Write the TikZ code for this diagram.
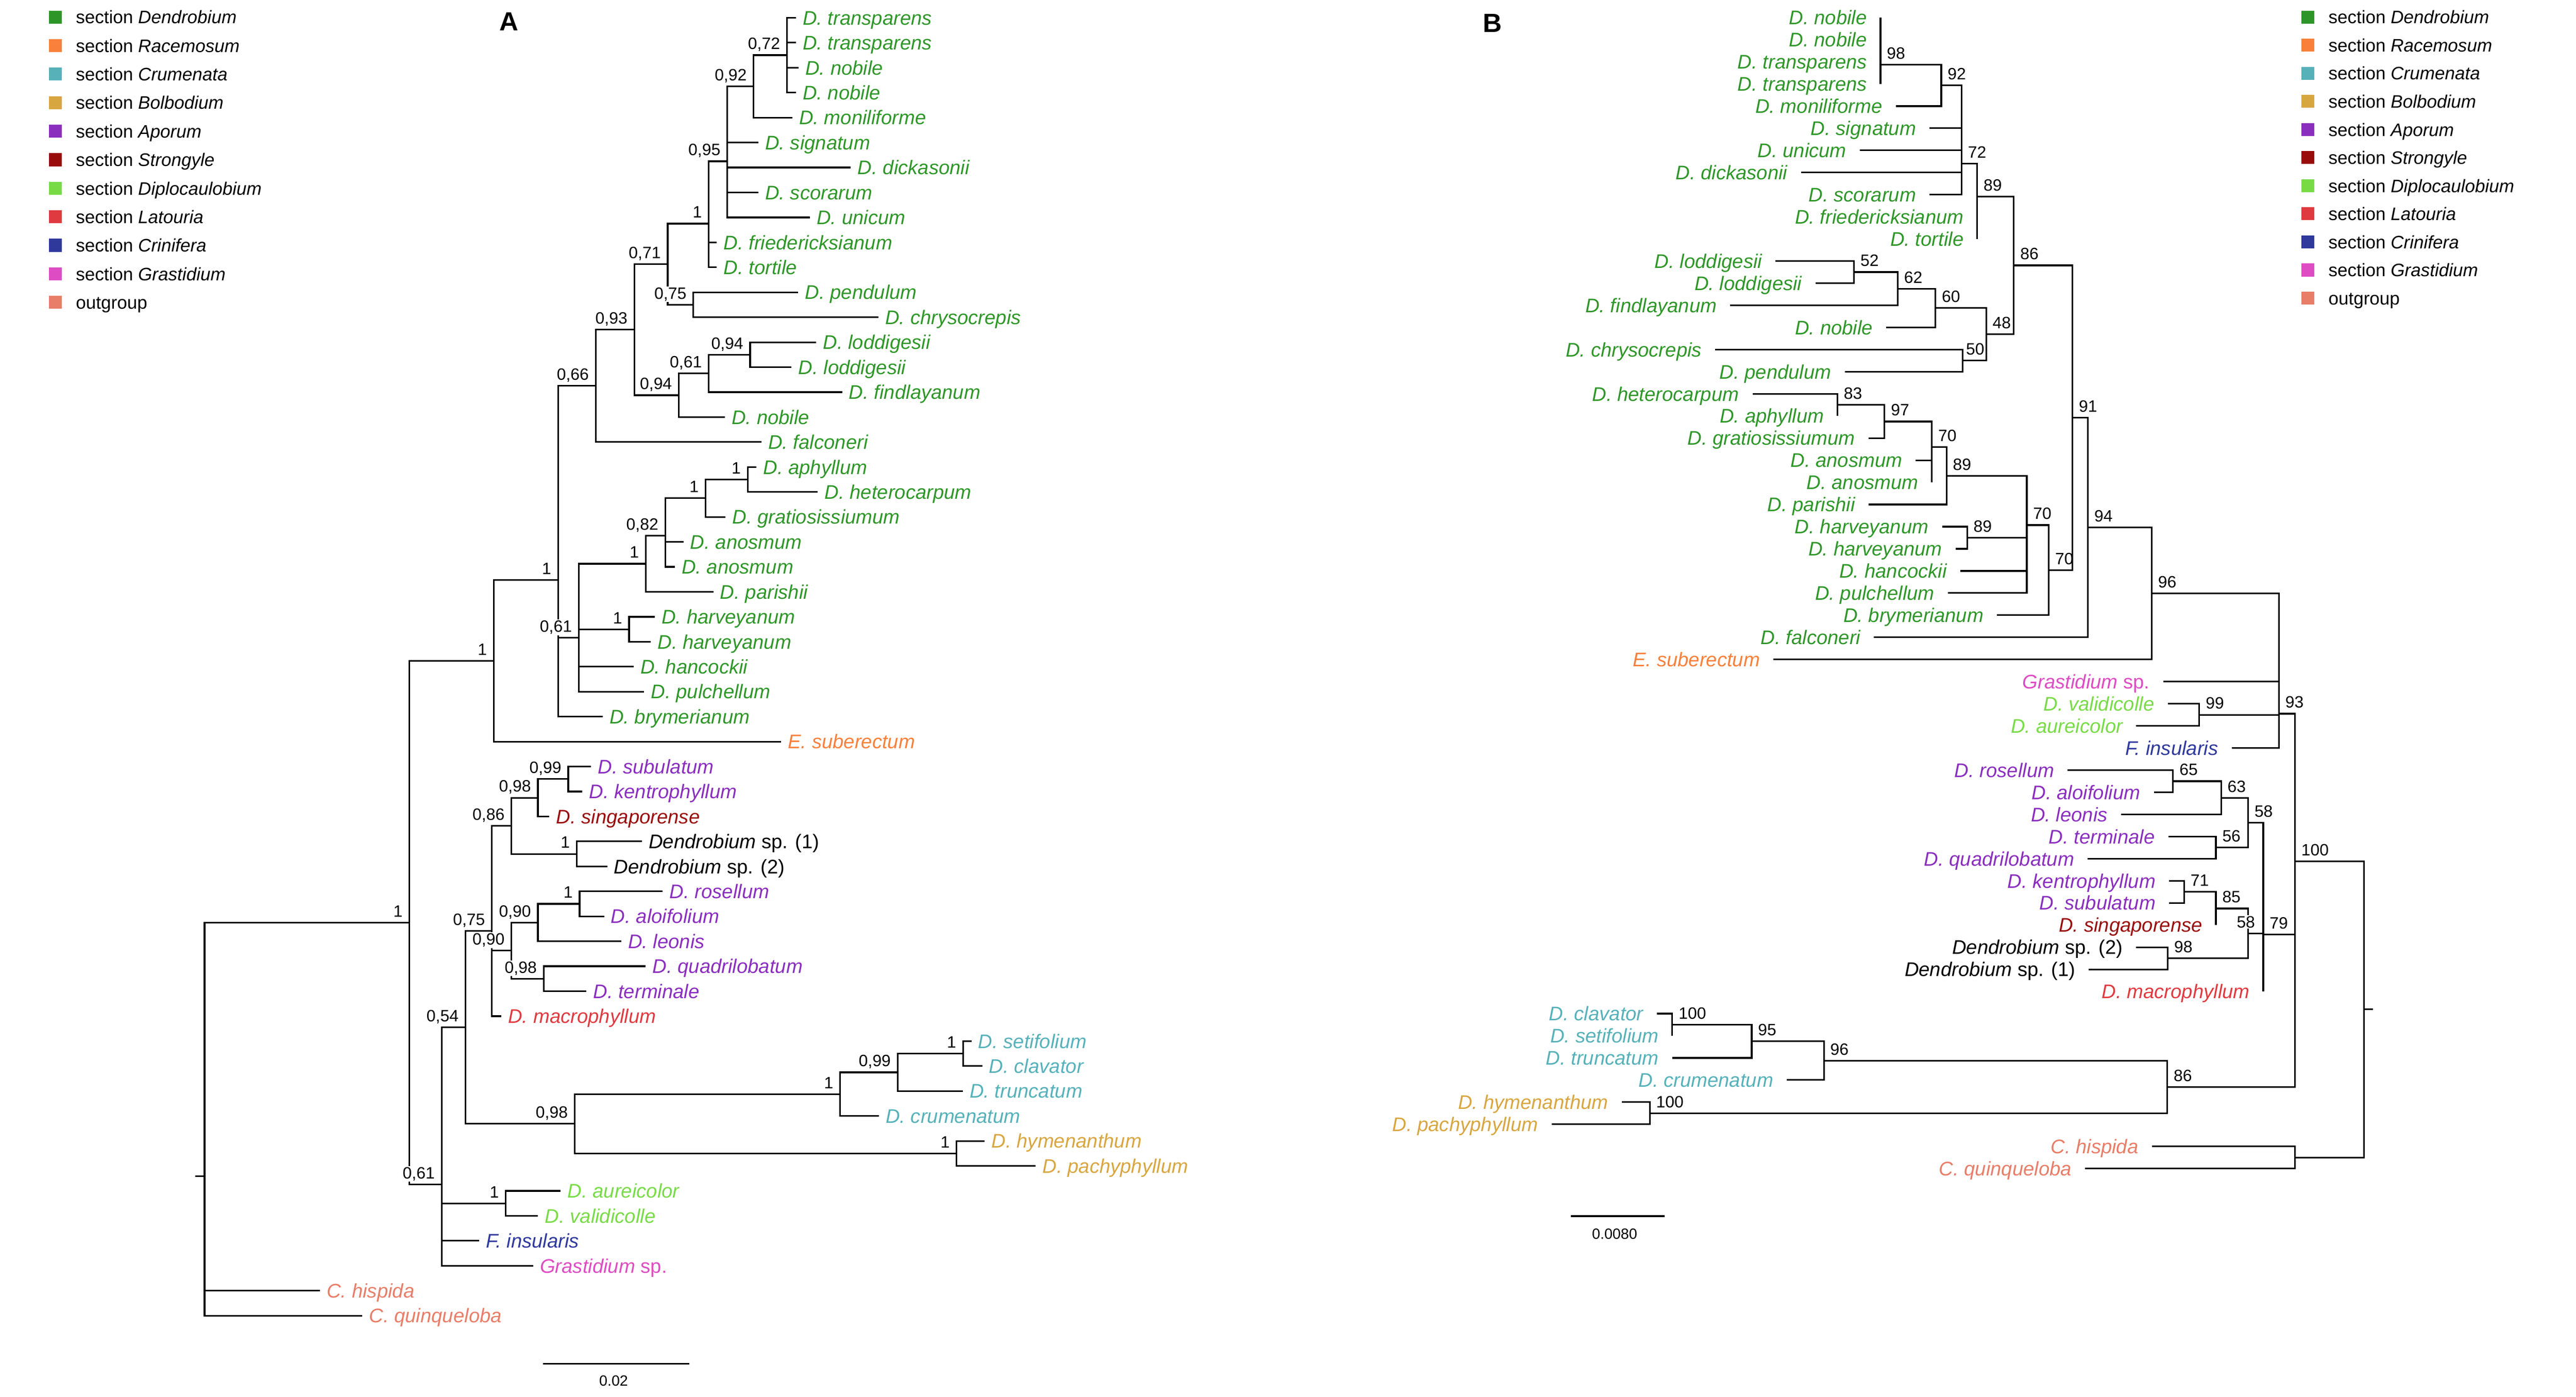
\documentclass[tikz,border=0pt]{standalone}
\usepackage{fontspec}
\setmainfont{Liberation Sans}
\usetikzlibrary{calc}

\definecolor{cDen}{HTML}{2E9628}
\definecolor{cRac}{HTML}{F8803A}
\definecolor{cCru}{HTML}{56B1B9}
\definecolor{cBol}{HTML}{D8A640}
\definecolor{cApo}{HTML}{8A2EBE}
\definecolor{cStr}{HTML}{990C0C}
\definecolor{cDip}{HTML}{78DB46}
\definecolor{cLat}{HTML}{DF3A40}
\definecolor{cCri}{HTML}{2F399C}
\definecolor{cGra}{HTML}{DD4CC2}
\definecolor{cOut}{HTML}{E87D68}

\tikzset{
  branch/.style={line width=1pt},
  tipa/.style={anchor=base west, inner sep=0pt, xshift=4pt, yshift=-4.3pt, font=\fontsize{12}{14}\selectfont\itshape},
  tipb/.style={anchor=base east, inner sep=0pt, xshift=-8pt, yshift=-4.3pt, font=\fontsize{12}{14}\selectfont\itshape},
  supa/.style={anchor=base east, inner sep=0.6pt, fill=white, font=\fontsize{10}{12}\selectfont},
  supb/.style={anchor=base west, inner sep=0.6pt, font=\fontsize{10}{12}\selectfont},
  legsq/.style={minimum size=7.9pt, inner sep=0pt},
  legtxt/.style={anchor=base west, inner sep=0pt, yshift=-4pt, font=\fontsize{11}{13}\selectfont},
  panel/.style={inner sep=0pt, font=\fontsize{16}{18}\selectfont\bfseries},
  sbtxt/.style={inner sep=0pt, font=\fontsize{9}{11}\selectfont}
}

% tip: name, x of branch end, row, colour, text
\newcommand{\tipA}[5]{\coordinate (#1) at (#2,#3); \node[tipa, text=#4] (#1l) at (#1) {#5};}
\newcommand{\tipB}[5]{\coordinate (#1) at (#2,#3); \node[tipb, text=#4] (#1l) at (#1) {#5};}
% support value next to a node
\newcommand{\supA}[2]{\node[supa] (#1s) at ([shift={(-3.4pt,3.5pt)}]#1) {#2};}
\newcommand{\supB}[2]{\node[supb] (#1s) at ([shift={(3.1pt,3.5pt)}]#1) {#2};}
% elbow branches from a node to its children
\newcommand{\clade}[2]{\foreach \kid in {#2} {\draw[branch] (#1) |- (\kid);}}

\begin{document}
\begin{tikzpicture}[x=1pt, y=-1pt]
\useasboundingbox (0,0) rectangle (1568,850);

% legends
\foreach \col/\sect [count=\k from 0] in {cDen/Dendrobium, cRac/Racemosum, cCru/Crumenata, cBol/Bolbodium, cApo/Aporum, cStr/Strongyle, cDip/Diplocaulobium, cLat/Latouria, cCri/Crinifera, cGra/Grastidium} {
  \node[legsq, fill=\col] (lgL\k) at (33.6,{10.4+17.36*\k}) {};
  \node[legtxt] (lgLt\k) at (46,{10.4+17.36*\k}) {section \textit{\sect}};
  \node[legsq, fill=\col] (lgR\k) at (1404.8,{10.4+17.1*\k}) {};
  \node[legtxt] (lgRt\k) at (1417.1,{10.4+17.1*\k}) {section \textit{\sect}};
}
\node[legsq, fill=cOut] (lgL10) at (33.6,184.0) {};
\node[legtxt] (lgLt10) at (46,184.0) {outgroup};
\node[legsq, fill=cOut] (lgR10) at (1404.8,181.4) {};
\node[legtxt] (lgRt10) at (1417.1,181.4) {outgroup};

\node[panel] (pA) at (309.7,13.1) {A};
\node[panel] (pB) at (908.5,14) {B};

% ---------------- tree A ----------------
\begin{scope}[yshift=-10.8pt, y=-15.19pt]
\tipA{a0}{484.4}{0}{cDen}{D. transparens}
\tipA{a1}{484.4}{1}{cDen}{D. transparens}
\tipA{a2}{486.0}{2}{cDen}{D. nobile}
\tipA{a3}{484.4}{3}{cDen}{D. nobile}
\tipA{a4}{482.2}{4}{cDen}{D. moniliforme}
\tipA{a5}{461.5}{5}{cDen}{D. signatum}
\tipA{a6}{517.9}{6}{cDen}{D. dickasonii}
\tipA{a7}{461.5}{7}{cDen}{D. scorarum}
\tipA{a8}{492.9}{8}{cDen}{D. unicum}
\tipA{a9}{436.3}{9}{cDen}{D. friedericksianum}
\tipA{a10}{436.3}{10}{cDen}{D. tortile}
\tipA{a11}{485.9}{11}{cDen}{D. pendulum}
\tipA{a12}{534.6}{12}{cDen}{D. chrysocrepis}
\tipA{a13}{496.8}{13}{cDen}{D. loddigesii}
\tipA{a14}{481.8}{14}{cDen}{D. loddigesii}
\tipA{a15}{512.6}{15}{cDen}{D. findlayanum}
\tipA{a16}{441.2}{16}{cDen}{D. nobile}
\tipA{a17}{463.4}{17}{cDen}{D. falconeri}
\tipA{a18}{460.4}{18}{cDen}{D. aphyllum}
\tipA{a19}{497.8}{19}{cDen}{D. heterocarpum}
\tipA{a20}{441.6}{20}{cDen}{D. gratiosissiumum}
\tipA{a21}{416.0}{21}{cDen}{D. anosmum}
\tipA{a22}{410.7}{22}{cDen}{D. anosmum}
\tipA{a23}{434.2}{23}{cDen}{D. parishii}
\tipA{a24}{398.5}{24}{cDen}{D. harveyanum}
\tipA{a25}{396.1}{25}{cDen}{D. harveyanum}
\tipA{a26}{385.6}{26}{cDen}{D. hancockii}
\tipA{a27}{392.1}{27}{cDen}{D. pulchellum}
\tipA{a28}{366.8}{28}{cDen}{D. brymerianum}
\tipA{a29}{475.4}{29}{cRac}{E. suberectum}
\tipA{a30}{359.7}{30}{cApo}{D. subulatum}
\tipA{a31}{354.4}{31}{cApo}{D. kentrophyllum}
\tipA{a32}{334.4}{32}{cStr}{D. singaporense}
\tipA{a33}{390.7}{33}{black}{Dendrobium \textup{sp. (1)}}
\tipA{a34}{369.6}{34}{black}{Dendrobium \textup{sp. (2)}}
\tipA{a35}{403.4}{35}{cApo}{D. rosellum}
\tipA{a36}{367.7}{36}{cApo}{D. aloifolium}
\tipA{a37}{378.1}{37}{cApo}{D. leonis}
\tipA{a38}{393.0}{38}{cApo}{D. quadrilobatum}
\tipA{a39}{356.9}{39}{cApo}{D. terminale}
\tipA{a40}{305.1}{40}{cLat}{D. macrophyllum}
\tipA{a41}{591.3}{41}{cCru}{D. setifolium}
\tipA{a42}{597.9}{42}{cCru}{D. clavator}
\tipA{a43}{586.0}{43}{cCru}{D. truncatum}
\tipA{a44}{534.9}{44}{cCru}{D. crumenatum}
\tipA{a45}{599.4}{45}{cBol}{D. hymenanthum}
\tipA{a46}{630.4}{46}{cBol}{D. pachyphyllum}
\tipA{a47}{341.3}{47}{cDip}{D. aureicolor}
\tipA{a48}{327.5}{48}{cDip}{D. validicolle}
\tipA{a49}{291.8}{49}{cCri}{F. insularis}
\tipA{a50}{324.5}{50}{cGra}{Grastidium \textup{sp.}}
\tipA{a51}{194.7}{51}{cOut}{C. hispida}
\tipA{a52}{220.5}{52}{cOut}{C. quinqueloba}

\coordinate (nA72) at (479.0,1.5);
\coordinate (nA92) at (458.7,2.75);
\coordinate (nA95) at (442.7,5.75);
\coordinate (nA1a) at (431.4,8.25);
\coordinate (nA75) at (422.0,11.5);
\coordinate (nA71) at (406.4,9.875);
\coordinate (nA94a) at (456.6,13.5);
\coordinate (nA61a) at (431.4,14.25);
\coordinate (nA94b) at (413.2,15.125);
\coordinate (nA93) at (386.1,12.5);
\coordinate (nA66) at (362.6,14.75);
\coordinate (nA1d) at (455.1,18.5);
\coordinate (nA1e) at (429.5,19.25);
\coordinate (nA82) at (404.9,20.75);
\coordinate (nA1f) at (393.1,21.875);
\coordinate (nA1g) at (382.9,24.5);
\coordinate (nA61b) at (352.3,24.84375);
\coordinate (nA1b) at (339.7,22.53125);
\coordinate (nA1c) at (300.6,25.765625);
\coordinate (nA99) at (345.9,30.5);
\coordinate (nA98a) at (327.4,31.25);
\coordinate (nA1h) at (351.1,33.5);
\coordinate (nA86) at (311.3,32.375);
\coordinate (nA1i) at (352.8,35.5);
\coordinate (nA90a) at (327.4,36.25);
\coordinate (nA98b) at (330.9,38.5);
\coordinate (nA90b) at (311.3,37.375);
\coordinate (nA75b) at (299.4,36.5833);
\coordinate (nA1j) at (586.2,41.5);
\coordinate (nA99b) at (546.4,42.25);
\coordinate (nA1k) at (511.4,43.125);
\coordinate (nA1l) at (582.3,45.5);
\coordinate (nA98c) at (349.8,44.3125);
\coordinate (nA54) at (283.3,40.4479);
\coordinate (nA1m) at (307.9,47.5);
\coordinate (nA61c) at (268.8,46.737);
\coordinate (nA1n) at (249.2,36.2513);
\coordinate (rootA) at (124.5,46.4171);
\coordinate (rootA0) at (118.7,46.4171);

\clade{nA72}{a0,a1,a2,a3}
\clade{nA92}{nA72,a4}
\clade{nA95}{nA92,a5,a6,a7,a8}
\clade{nA1a}{nA95,a9,a10}
\clade{nA75}{a11,a12}
\clade{nA71}{nA1a,nA75}
\clade{nA94a}{a13,a14}
\clade{nA61a}{nA94a,a15}
\clade{nA94b}{nA61a,a16}
\clade{nA93}{nA71,nA94b}
\clade{nA66}{nA93,a17}
\clade{nA1d}{a18,a19}
\clade{nA1e}{nA1d,a20}
\clade{nA82}{nA1e,a21,a22}
\clade{nA1f}{nA82,a23}
\clade{nA1g}{a24,a25}
\clade{nA61b}{nA1f,nA1g,a26,a27}
\clade{nA1b}{nA66,nA61b,a28}
\clade{nA1c}{nA1b,a29}
\clade{nA99}{a30,a31}
\clade{nA98a}{nA99,a32}
\clade{nA1h}{a33,a34}
\clade{nA86}{nA98a,nA1h}
\clade{nA1i}{a35,a36}
\clade{nA90a}{nA1i,a37}
\clade{nA98b}{a38,a39}
\clade{nA90b}{nA90a,nA98b}
\clade{nA75b}{nA86,nA90b,a40}
\clade{nA1j}{a41,a42}
\clade{nA99b}{nA1j,a43}
\clade{nA1k}{nA99b,a44}
\clade{nA1l}{a45,a46}
\clade{nA98c}{nA1k,nA1l}
\clade{nA54}{nA75b,nA98c}
\clade{nA1m}{a47,a48}
\clade{nA61c}{nA54,nA1m,a49,a50}
\clade{nA1n}{nA1c,nA61c}
\clade{rootA}{nA1n,a51,a52}
\draw[branch] (rootA0) -- (rootA);

\supA{nA72}{0,72}
\supA{nA92}{0,92}
\supA{nA95}{0,95}
\supA{nA1a}{1}
\supA{nA75}{0,75}
\supA{nA71}{0,71}
\supA{nA94a}{0,94}
\supA{nA61a}{0,61}
\supA{nA94b}{0,94}
\supA{nA93}{0,93}
\supA{nA66}{0,66}
\supA{nA1d}{1}
\supA{nA1e}{1}
\supA{nA82}{0,82}
\supA{nA1f}{1}
\supA{nA1g}{1}
\supA{nA61b}{0,61}
\supA{nA1b}{1}
\supA{nA1c}{1}
\supA{nA99}{0,99}
\supA{nA98a}{0,98}
\supA{nA1h}{1}
\supA{nA86}{0,86}
\supA{nA1i}{1}
\supA{nA90a}{0,90}
\supA{nA98b}{0,98}
\supA{nA90b}{0,90}
\supA{nA75b}{0,75}
\supA{nA1j}{1}
\supA{nA99b}{0,99}
\supA{nA1k}{1}
\supA{nA1l}{1}
\supA{nA98c}{0,98}
\supA{nA54}{0,54}
\supA{nA1m}{1}
\supA{nA61c}{0,61}
\supA{nA1n}{1}
\end{scope}

% scale bar A
\coordinate (sbA1) at (330.4,829.9);
\coordinate (sbA2) at (419.5,829.9);
\draw[branch] (sbA1) -- (sbA2);
\node[sbtxt] (sbAl) at (373.5,840.3) {0.02};

% ---------------- tree B ----------------
\begin{scope}[yshift=-10.7pt, y=-13.47pt]
\tipB{b0}{1144.6}{0}{cDen}{D. nobile}
\tipB{b1}{1144.6}{1}{cDen}{D. nobile}
\tipB{b2}{1144.6}{2}{cDen}{D. transparens}
\tipB{b3}{1144.6}{3}{cDen}{D. transparens}
\tipB{b4}{1154.0}{4}{cDen}{D. moniliforme}
\tipB{b5}{1174.5}{5}{cDen}{D. signatum}
\tipB{b6}{1132.1}{6}{cDen}{D. unicum}
\tipB{b7}{1096.2}{7}{cDen}{D. dickasonii}
\tipB{b8}{1174.5}{8}{cDen}{D. scorarum}
\tipB{b9}{1203.5}{9}{cDen}{D. friedericksianum}
\tipB{b10}{1203.5}{10}{cDen}{D. tortile}
\tipB{b11}{1080.8}{11}{cDen}{D. loddigesii}
\tipB{b12}{1105.0}{12}{cDen}{D. loddigesii}
\tipB{b13}{1053.2}{13}{cDen}{D. findlayanum}
\tipB{b14}{1148.2}{14}{cDen}{D. nobile}
\tipB{b15}{1044.0}{15}{cDen}{D. chrysocrepis}
\tipB{b16}{1122.9}{16}{cDen}{D. pendulum}
\tipB{b17}{1066.7}{17}{cDen}{D. heterocarpum}
\tipB{b18}{1118.4}{18}{cDen}{D. aphyllum}
\tipB{b19}{1137.4}{19}{cDen}{D. gratiosissiumum}
\tipB{b20}{1166.1}{20}{cDen}{D. anosmum}
\tipB{b21}{1175.9}{21}{cDen}{D. anosmum}
\tipB{b22}{1137.4}{22}{cDen}{D. parishii}
\tipB{b23}{1182.1}{23}{cDen}{D. harveyanum}
\tipB{b24}{1190.4}{24}{cDen}{D. harveyanum}
\tipB{b25}{1193.2}{25}{cDen}{D. hancockii}
\tipB{b26}{1185.7}{26}{cDen}{D. pulchellum}
\tipB{b27}{1215.6}{27}{cDen}{D. brymerianum}
\tipB{b28}{1140.7}{28}{cDen}{D. falconeri}
\tipB{b29}{1079.5}{29}{cRac}{E. suberectum}
\tipB{b30}{1316.7}{30}{cGra}{Grastidium \textup{sp.}}
\tipB{b31}{1319.5}{31}{cDip}{D. validicolle}
\tipB{b32}{1300.3}{32}{cDip}{D. aureicolor}
\tipB{b33}{1358.4}{33}{cCri}{F. insularis}
\tipB{b34}{1258.6}{34}{cApo}{D. rosellum}
\tipB{b35}{1311.0}{35}{cApo}{D. aloifolium}
\tipB{b36}{1291.1}{36}{cApo}{D. leonis}
\tipB{b37}{1319.9}{37}{cApo}{D. terminale}
\tipB{b38}{1270.8}{38}{cApo}{D. quadrilobatum}
\tipB{b39}{1320.3}{39}{cApo}{D. kentrophyllum}
\tipB{b40}{1320.3}{40}{cApo}{D. subulatum}
\tipB{b41}{1348.8}{41}{cStr}{D. singaporense}
\tipB{b42}{1300.3}{42}{black}{Dendrobium \textup{sp. (2)}}
\tipB{b43}{1271.4}{43}{black}{Dendrobium \textup{sp. (1)}}
\tipB{b44}{1377.6}{44}{cLat}{D. macrophyllum}
\tipB{b45}{1008.5}{45}{cCru}{D. clavator}
\tipB{b46}{1017.9}{46}{cCru}{D. setifolium}
\tipB{b47}{1017.9}{47}{cCru}{D. truncatum}
\tipB{b48}{1087.6}{48}{cCru}{D. crumenatum}
\tipB{b49}{987.1}{49}{cBol}{D. hymenanthum}
\tipB{b50}{944.4}{50}{cBol}{D. pachyphyllum}
\tipB{b51}{1309.8}{51}{cOut}{C. hispida}
\tipB{b52}{1269.2}{52}{cOut}{C. quinqueloba}

\coordinate (nB98) at (1144.6,2.125);
\coordinate (nB92) at (1181.6,3.0625);
\coordinate (nB72) at (1194.0,6.59);
\coordinate (nB89) at (1203.5,8.08);
\coordinate (nB52) at (1128.5,11.5);
\coordinate (nB62) at (1155.1,12.25);
\coordinate (nB60) at (1178.1,13.125);
\coordinate (nB50) at (1194.7,15.5);
\coordinate (nB48) at (1209.0,14.3125);
\coordinate (nB86) at (1225.8,11.196);
\coordinate (nB83) at (1118.4,17.5);
\coordinate (nB97) at (1147.1,18.25);
\coordinate (nB70a) at (1175.9,19.4);
\coordinate (nB89b) at (1184.8,20.7);
\coordinate (nB89c) at (1197.4,23.5);
\coordinate (nB70c) at (1233.7,22.93);
\coordinate (nB70b) at (1247.1,24.96);
\coordinate (nB91) at (1261.5,18.08);
\coordinate (nB94) at (1270.9,23.04);
\coordinate (nB96) at (1309.7,26.02);
\coordinate (nB99) at (1338.7,31.5);
\coordinate (nB93) at (1387.2,31.45);
\coordinate (nB65) at (1322.7,34.5);
\coordinate (nB63) at (1352.0,35.25);
\coordinate (nB56) at (1348.8,37.5);
\coordinate (nB58a) at (1368.4,36.375);
\coordinate (nB71) at (1329.5,39.5);
\coordinate (nB85) at (1348.8,40.25);
\coordinate (nB98b) at (1319.5,42.5);
\coordinate (nB58b) at (1368.4,41.375);
\coordinate (nB79) at (1377.6,41.43);
\coordinate (nB100c) at (1017.9,45.5);
\coordinate (nB95) at (1066.2,46.25);
\coordinate (nB96c) at (1110.2,47.125);
\coordinate (nB100d) at (1004.2,49.5);
\coordinate (nB86c) at (1319.2,48.3125);
\coordinate (nB100) at (1396.9,38.12);
\coordinate (nBout) at (1396.9,51.5);
\coordinate (rootB) at (1438.9,44.81);
\coordinate (rootB0) at (1444.3,44.81);

\clade{nB98}{b0,b1,b2,b3}
\clade{nB92}{nB98,b4}
\clade{nB72}{nB92,b5,b6,b7,b8}
\clade{nB89}{nB72,b9,b10}
\clade{nB52}{b11,b12}
\clade{nB62}{nB52,b13}
\clade{nB60}{nB62,b14}
\clade{nB50}{b15,b16}
\clade{nB48}{nB60,nB50}
\clade{nB86}{nB89,nB48}
\clade{nB83}{b17,b18}
\clade{nB97}{nB83,b19}
\clade{nB70a}{nB97,b20,b21}
\clade{nB89b}{nB70a,b22}
\clade{nB89c}{b23,b24}
\clade{nB70c}{nB89b,nB89c,b25,b26}
\clade{nB70b}{nB70c,b27}
\clade{nB91}{nB86,nB70b}
\clade{nB94}{nB91,b28}
\clade{nB96}{nB94,b29}
\clade{nB99}{b31,b32}
\clade{nB93}{nB96,b30,nB99,b33}
\clade{nB65}{b34,b35}
\clade{nB63}{nB65,b36}
\clade{nB56}{b37,b38}
\clade{nB58a}{nB63,nB56}
\clade{nB71}{b39,b40}
\clade{nB85}{nB71,b41}
\clade{nB98b}{b42,b43}
\clade{nB58b}{nB85,nB98b}
\clade{nB79}{nB58a,nB58b,b44}
\clade{nB100c}{b45,b46}
\clade{nB95}{nB100c,b47}
\clade{nB96c}{nB95,b48}
\clade{nB100d}{b49,b50}
\clade{nB86c}{nB96c,nB100d}
\clade{nB100}{nB93,nB79,nB86c}
\clade{nBout}{b51,b52}
\clade{rootB}{nB100,nBout}
\draw[branch] (rootB) -- (rootB0);

\supB{nB98}{98}
\supB{nB92}{92}
\supB{nB72}{72}
\supB{nB89}{89}
\supB{nB52}{52}
\supB{nB62}{62}
\supB{nB60}{60}
\node[supb] (nB50s) at ([shift={(1.2pt,3.5pt)}]nB50) {50};
\supB{nB48}{48}
\supB{nB86}{86}
\supB{nB83}{83}
\supB{nB97}{97}
\supB{nB70a}{70}
\supB{nB89b}{89}
\supB{nB89c}{89}
\supB{nB70c}{70}
\supB{nB70b}{70}
\supB{nB91}{91}
\supB{nB94}{94}
\supB{nB96}{96}
\supB{nB99}{99}
\supB{nB93}{93}
\supB{nB65}{65}
\supB{nB63}{63}
\supB{nB56}{56}
\supB{nB58a}{58}
\supB{nB71}{71}
\supB{nB85}{85}
\supB{nB98b}{98}
\node[supa] (nB58bs) at ([shift={(5pt,3.5pt)}]nB58b) {58};
\supB{nB79}{79}
\supB{nB100c}{100}
\supB{nB95}{95}
\supB{nB96c}{96}
\supB{nB100d}{100}
\supB{nB86c}{86}
\supB{nB100}{100}
\end{scope}

% scale bar B
\coordinate (sbB1) at (956.3,740.1);
\coordinate (sbB2) at (1013.2,740.1);
\draw[branch] (sbB1) -- (sbB2);
\node[sbtxt] (sbBl) at (982.8,751.1) {0.0080};
\end{tikzpicture}
\end{document}
